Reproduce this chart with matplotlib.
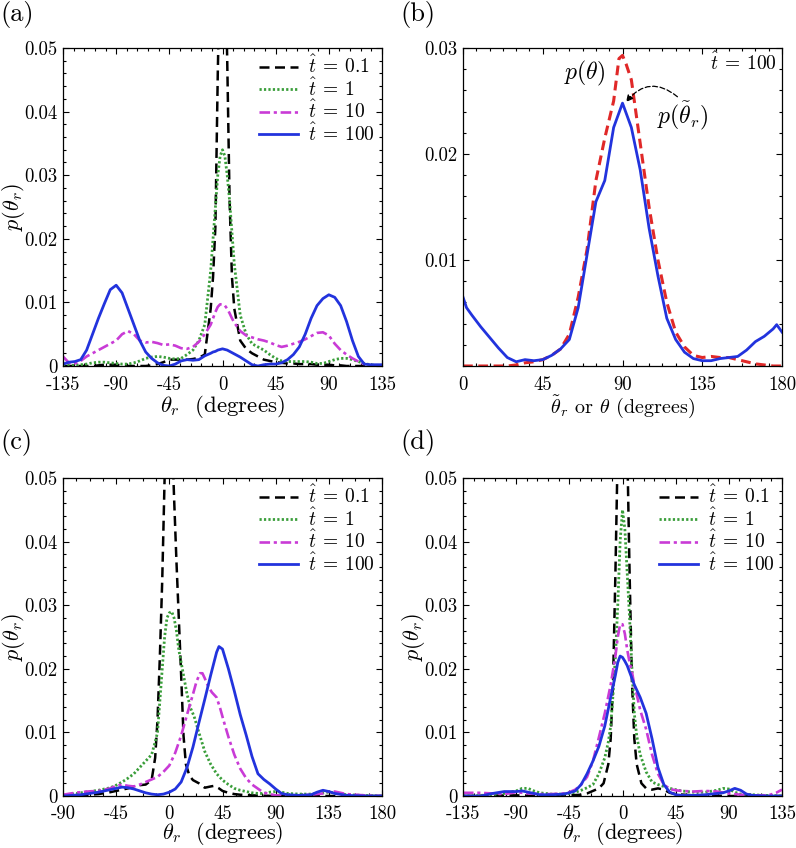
import matplotlib
matplotlib.use("Agg")
import matplotlib.pyplot as plt
from matplotlib.ticker import MultipleLocator

plt.rcParams['font.family'] = ['cmr10', 'DejaVu Serif']
plt.rcParams['mathtext.fontset'] = 'cm'
plt.rcParams['axes.unicode_minus'] = False
plt.rcParams['axes.formatter.use_mathtext'] = True

# ---------------- Panel (a) ----------------
a_x = [-135, -130, -125, -120, -115, -110, -105, -100, -95, -90, -85, -80, -75, -70, -65, -60,
       -55, -50, -45, -40, -35, -30, -25, -20, -15,
       -10, -8, -6, -4, -2, 0, 2, 4, 6, 8, 10,
       15, 20, 25, 30, 35, 40, 45, 50, 55, 60, 65, 70, 75, 80, 85, 90, 95, 100, 105, 110, 115,
       120, 125, 130, 135]
a_t01 = [0, 0, 0, 0, 0, 0, 0.0001, 0.0002, 0.0002, 0.0002, 0.0001, 0, 0, 0, 0, 0.0001,
         0.0003, 0.0006, 0.001, 0.001, 0.001, 0.001, 0.0011, 0.0013, 0.0018,
         0.009, 0.014, 0.022, 0.046, 0.065, 0.072, 0.066, 0.048, 0.026, 0.014, 0.009,
         0.004, 0.0027, 0.002, 0.0015, 0.001, 0.0008, 0.0006, 0.0005, 0.0004, 0.0004, 0.0003,
         0.0003, 0.0003, 0.0002, 0.0002, 0.0002, 0.0001, 0.0001, 0, 0, 0, 0, 0, 0, 0]
a_t1 = [0.0002, 0.0001, 0.0001, 0.0002, 0.0003, 0.0005, 0.0006, 0.0006, 0.0005, 0.0004, 0.0003,
        0.0003, 0.0005, 0.0008, 0.0012, 0.0014, 0.0015, 0.0014, 0.0012, 0.0011, 0.0012, 0.0018,
        0.0025, 0.004, 0.0065,
        0.015, 0.02, 0.025, 0.03, 0.033, 0.034, 0.033, 0.03, 0.026, 0.021, 0.016,
        0.008, 0.005, 0.0035, 0.003, 0.0025, 0.0018, 0.0012, 0.0008, 0.0007, 0.0007, 0.0007,
        0.0007, 0.0006, 0.0004, 0.0004, 0.0007, 0.001, 0.0012, 0.0012, 0.001, 0.0007, 0.0004,
        0.0002, 0.0001, 0.0001]
a_t10 = [0.0015, 0.0005, 0.0004, 0.0008, 0.0015, 0.002, 0.0025, 0.003, 0.0035, 0.004, 0.005,
         0.0055, 0.005, 0.004, 0.0037, 0.0038, 0.0036, 0.0033, 0.0034, 0.0032, 0.0028, 0.0027,
         0.003, 0.0038, 0.005,
         0.0065, 0.0075, 0.0085, 0.0093, 0.0097, 0.0097, 0.0095, 0.009, 0.0083, 0.0075, 0.0068,
         0.0055, 0.0048, 0.0045, 0.0042, 0.004, 0.0037, 0.0033, 0.003, 0.0032, 0.0035, 0.0038,
         0.0042, 0.0047, 0.0052, 0.0053, 0.0048, 0.0035, 0.0025, 0.0018, 0.0012, 0.0007, 0.0003,
         0.0001, 0.0, 0.0]
a_t100 = [0.0003, 0.0006, 0.0007, 0.001, 0.0025, 0.005, 0.0075, 0.0098, 0.012, 0.0127, 0.0115,
          0.009, 0.0065, 0.004, 0.0022, 0.0012, 0.0005, 0.0001, 0.0, 0.0003, 0.0008, 0.001,
          0.0009, 0.001, 0.0016,
          0.002, 0.0022, 0.0023, 0.0025, 0.0026, 0.0027, 0.0026, 0.0025, 0.0023, 0.0021, 0.0019,
          0.0014, 0.0008, 0.0002, 0.0, 0.0002, 0.0003, 0.0003, 0.0005, 0.001, 0.0018, 0.003,
          0.005, 0.0075, 0.0095, 0.0106, 0.0112, 0.0108, 0.0095, 0.007, 0.004, 0.0015, 0.0003,
          0.0002, 0.0002, 0.0002]

# ---------------- Panel (b) ----------------
b_red_x = [0, 5, 10, 15, 20, 25, 30, 35, 40, 45, 50, 55, 60, 65, 70, 75, 80, 85, 88, 90, 92, 95,
           100, 105, 110, 115, 120, 125, 130, 135, 140, 145, 150, 155, 160, 165, 170, 175, 180]
b_red_y = [0, 0, 0, 0, 0, 0, 0.0001, 0.0003, 0.0004, 0.0006, 0.001, 0.0016, 0.003, 0.0065, 0.011,
           0.0175, 0.0215, 0.025, 0.029, 0.0293, 0.0285, 0.027, 0.021, 0.015, 0.01, 0.006, 0.0032,
           0.0018, 0.001, 0.0008, 0.0009, 0.0008, 0.0008, 0.0006, 0.0004, 0.0002, 0.0001, 0.0, 0.0]
b_blue_x = [0, 2, 5, 10, 15, 20, 25, 30, 35, 40, 45, 50, 55, 60, 65, 70, 75, 80, 85, 90, 95, 100,
            105, 110, 115, 120, 125, 130, 135, 140, 145, 150, 155, 160, 165, 170, 175, 177, 180]
b_blue_y = [0.0065, 0.0055, 0.0048, 0.0037, 0.0027, 0.0017, 0.0008, 0.0004, 0.0006, 0.0005,
            0.0006, 0.001, 0.0016, 0.0025, 0.0055, 0.0105, 0.0155, 0.0175, 0.0225, 0.0248, 0.0225,
            0.0185, 0.013, 0.0085, 0.0045, 0.0025, 0.0013, 0.0007, 0.0005, 0.0005, 0.0007, 0.0008,
            0.0009, 0.0015, 0.0023, 0.0028, 0.0035, 0.0039, 0.0032]

# ---------------- Panel (c) ----------------
c_t01_x = [-90, -75, -60, -50, -45, -40, -35, -30, -25, -20, -15, -12, -10, -8, -6, -4, -2, 0, 2, 4,
           6, 8, 10, 12, 14, 17, 20, 25, 30, 35, 38, 42, 45, 50, 55, 60, 70, 90, 120, 150, 180]
c_t01_y = [0, 0.0001, 0.0003, 0.0006, 0.0008, 0.001, 0.0012, 0.0015, 0.0017, 0.0018, 0.0025,
           0.006, 0.012, 0.022, 0.034, 0.05, 0.062, 0.066, 0.058, 0.047, 0.037, 0.028, 0.019,
           0.0095, 0.005, 0.0032, 0.0025, 0.002, 0.0013, 0.0015, 0.0016, 0.0012, 0.0008, 0.0005,
           0.0003, 0.0002, 0.0001, 0, 0, 0, 0]
c_t1_x = [-90, -75, -60, -50, -45, -40, -35, -30, -25, -20, -15, -12, -10, -8, -6, -4, -2, 0, 2, 4,
          6, 8, 10, 12, 15, 18, 21, 25, 30, 35, 40, 45, 50, 55, 60, 65, 70, 75, 80, 85, 90, 95, 100,
          110, 120, 130, 135, 140, 150, 165, 180]
c_t1_y = [0.0001, 0.0005, 0.0009, 0.0013, 0.0017, 0.0022, 0.0028, 0.0035, 0.0045, 0.0055, 0.0065,
          0.0085, 0.01, 0.015, 0.02, 0.025, 0.028, 0.0288, 0.029, 0.028, 0.026, 0.023, 0.021, 0.019,
          0.016, 0.0138, 0.0125, 0.01, 0.007, 0.005, 0.0035, 0.0025, 0.0018, 0.0012, 0.0009,
          0.0007, 0.0005, 0.0004, 0.0004, 0.0006, 0.0007, 0.0006, 0.0004, 0.0003, 0.0003, 0.0005,
          0.0006, 0.0005, 0.0002, 0.0001, 0]
c_t10_x = [-90, -80, -70, -60, -50, -45, -40, -35, -30, -25, -20, -15, -10, -5, 0, 5, 10, 15, 20,
           23, 26, 28, 30, 33, 36, 40, 43, 46, 50, 55, 60, 65, 70, 80, 90, 100, 110, 120, 130, 135,
           140, 150, 165, 180]
c_t10_y = [0.0002, 0.0005, 0.0007, 0.0008, 0.0012, 0.0016, 0.0018, 0.0016, 0.0015, 0.0018,
           0.0022, 0.0026, 0.003, 0.0038, 0.0048, 0.0068, 0.0095, 0.0128, 0.016, 0.018, 0.0193,
           0.0193, 0.0185, 0.0172, 0.0163, 0.0155, 0.0138, 0.0118, 0.0093, 0.0065, 0.0043, 0.0028,
           0.0018, 0.0005, 0.0001, 0.0001, 0.0001, 0.0002, 0.0004, 0.0007, 0.0007, 0.0003, 0.0001, 0]
c_t100_x = [-90, -75, -60, -50, -45, -40, -35, -30, -25, -20, -15, -10, -5, 0, 5, 10, 15, 20, 25,
            30, 35, 40, 42, 45, 50, 55, 60, 65, 70, 75, 80, 85, 90, 95, 100, 110, 120, 125, 130,
            135, 140, 150, 165, 180]
c_t100_y = [0, 0.0002, 0.0006, 0.001, 0.0012, 0.0014, 0.0013, 0.0011, 0.0008, 0.0005, 0.0003,
            0.0002, 0.0003, 0.0006, 0.0011, 0.0022, 0.0045, 0.0077, 0.0115, 0.0152, 0.019, 0.0226,
            0.0235, 0.0231, 0.02, 0.0165, 0.0128, 0.0096, 0.0062, 0.0035, 0.0026, 0.0019, 0.0011,
            0.0004, 0.0002, 0.0001, 0.0002, 0.0006, 0.0009, 0.0007, 0.0004, 0.0001, 0, 0]

# ---------------- Panel (d) ----------------
d_t01_x = [-135, -90, -60, -45, -35, -30, -25, -20, -16, -12, -10, -8, -6, -4, -2, 0, 2, 4, 6, 8,
           10, 12, 16, 20, 25, 30, 35, 40, 45, 60, 90, 135]
d_t01_y = [0, 0.0001, 0, 0.0001, 0.0002, 0.0004, 0.0008, 0.0012, 0.002, 0.005, 0.009, 0.018,
           0.035, 0.055, 0.066, 0.07, 0.066, 0.055, 0.035, 0.018, 0.009, 0.005, 0.002, 0.0012,
           0.001, 0.0012, 0.001, 0.0005, 0.0003, 0.0001, 0, 0]
d_t1_x = [-135, -120, -110, -100, -90, -85, -80, -75, -70, -60, -50, -45, -40, -35, -30, -25, -20,
          -15, -12, -10, -8, -6, -4, -2, 0, 2, 4, 6, 8, 10, 12, 15, 20, 25, 30, 35, 40, 50, 60, 70,
          80, 85, 90, 95, 100, 110, 120, 135]
d_t1_y = [0, 0.0001, 0.0002, 0.0004, 0.0008, 0.0012, 0.0012, 0.0008, 0.0005, 0.0003, 0.0003,
          0.0004, 0.0006, 0.0009, 0.0013, 0.0018, 0.0035, 0.006, 0.0085, 0.011, 0.016, 0.022, 0.03,
          0.04, 0.045, 0.042, 0.035, 0.028, 0.02, 0.013, 0.0095, 0.0065, 0.0038, 0.0022, 0.0018,
          0.0015, 0.0012, 0.0008, 0.0006, 0.0006, 0.0009, 0.0012, 0.0011, 0.0006, 0.0003, 0.0002,
          0.0001, 0]
d_t10_x = [-135, -120, -100, -90, -80, -70, -60, -50, -45, -40, -35, -30, -25, -20, -15, -10, -6,
           -4, -2, 0, 2, 4, 6, 8, 10, 12, 15, 20, 25, 30, 35, 40, 45, 50, 60, 70, 80, 90, 100, 110,
           120, 125, 130, 135]
d_t10_y = [0.0005, 0.0005, 0.0003, 0.0006, 0.0004, 0.0003, 0.0003, 0.0004, 0.0006, 0.001, 0.0018,
           0.003, 0.0055, 0.0092, 0.013, 0.0175, 0.022, 0.025, 0.027, 0.027, 0.0255, 0.023, 0.021,
           0.0195, 0.0175, 0.016, 0.0135, 0.0105, 0.0065, 0.0035, 0.0018, 0.0011, 0.0009, 0.0008,
           0.0007, 0.0008, 0.0007, 0.0004, 0.0002, 0.0001, 0.0001, 0.0002, 0.0005, 0.001]
d_t100_x = [-135, -120, -110, -100, -90, -85, -80, -70, -60, -50, -45, -40, -35, -30, -25, -20,
            -15, -10, -6, -4, -2, 0, 2, 4, 6, 8, 10, 15, 20, 25, 30, 35, 40, 45, 50, 60, 70, 80,
            85, 90, 95, 100, 105, 110, 120, 135]
d_t100_y = [0, 0, 0.0004, 0.0007, 0.0007, 0.0008, 0.0006, 0.0002, 0.0002, 0.0003, 0.0005, 0.0008,
            0.0018, 0.0035, 0.0055, 0.0078, 0.011, 0.0155, 0.019, 0.021, 0.022, 0.0218, 0.0212,
            0.0205, 0.0195, 0.0185, 0.0175, 0.0155, 0.013, 0.009, 0.0045, 0.0018, 0.0006, 0.0002,
            0.0001, 0.0001, 0.0002, 0.0004, 0.0005, 0.0008, 0.0012, 0.0009, 0.0003, 0.0001, 0, 0]

labels = [r'$\hat{t}\:=\:0.1$', r'$\hat{t}\:=\:1$', r'$\hat{t}\:=\:10$', r'$\hat{t}\:=\:100$']
xlabel_r = r'$\theta_r$  (degrees)'
xlabel_b = r'$\tilde{\theta}_r$ or $\theta$ (degrees)'
ylabel = r'$p(\theta_r)$'

BLACK = '#000000'
GREEN = '#3a9e3a'
MAGENTA = '#c93bd6'
BLUE = '#2233dd'
RED = '#e02828'

fig = plt.figure(figsize=(7.96, 8.48), dpi=100)
W, H = 319 / 796, 318 / 848
pos = {
    'a': [63 / 796, 1 - 366 / 848, W, H],
    'b': [463 / 796, 1 - 366 / 848, W, H],
    'c': [63 / 796, 1 - 796 / 848, W, H],
    'd': [463 / 796, 1 - 796 / 848, W, H],
}


def style_axes(ax, xlim, xticks, xminor, ylim, yticks, ylabels, yminor=0.002, xpad=7.5):
    ax.set_xlim(*xlim)
    ax.set_ylim(*ylim)
    ax.set_xticks(xticks)
    ax.set_xticklabels([str(v) for v in xticks])
    ax.set_yticks(yticks)
    ax.set_yticklabels(ylabels)
    ax.xaxis.set_minor_locator(MultipleLocator(xminor))
    ax.yaxis.set_minor_locator(MultipleLocator(yminor))
    ax.tick_params(which='both', direction='in', top=True, right=True, labelsize=13.5,
                   width=0.8)
    ax.tick_params(axis='x', which='both', pad=xpad)
    ax.tick_params(axis='y', which='both', pad=4)
    ax.tick_params(which='major', length=4.5)
    ax.tick_params(which='minor', length=2.5)
    for s in ax.spines.values():
        s.set_linewidth(0.9)


def four_curves(ax, xs, ys):
    l1, = ax.plot(xs[0], ys[0], color=BLACK, lw=1.8, dashes=(4, 2.2))
    l2, = ax.plot(xs[1], ys[1], color=GREEN, lw=2.0, dashes=(0.8, 0.8))
    l3, = ax.plot(xs[2], ys[2], color=MAGENTA, lw=1.9, dashes=(4, 1.4, 1.2, 1.4))
    l4, = ax.plot(xs[3], ys[3], color=BLUE, lw=2.0)
    ax.legend([l1, l2, l3, l4], labels, loc='upper right', frameon=False, fontsize=14,
              handlelength=2.0, handletextpad=0.55, labelspacing=0.0,
              borderpad=0.15, borderaxespad=0.2, bbox_to_anchor=(1.0, 1.0))


def set_ylab(ax):
    ax.set_ylabel(ylabel, fontsize=16)
    ax.yaxis.set_label_coords(-0.112, 0.5)


ylab05 = ['0', '0.01', '0.02', '0.03', '0.04', '0.05']
yt05 = [0, 0.01, 0.02, 0.03, 0.04, 0.05]

# (a)
ax = fig.add_axes(pos['a'])
four_curves(ax, [a_x] * 4, [a_t01, a_t1, a_t10, a_t100])
style_axes(ax, (-135, 135), [-135, -90, -45, 0, 45, 90, 135], 9, (0, 0.05), yt05, ylab05)
ax.set_xlabel(xlabel_r, fontsize=16.5, labelpad=-1)
set_ylab(ax)

# (b)
ax = fig.add_axes(pos['b'])
ax.plot(b_red_x, b_red_y, color=RED, lw=2.2, dashes=(3.2, 1.8))
ax.plot(b_blue_x, b_blue_y, color=BLUE, lw=2.0)
style_axes(ax, (0, 180), [0, 45, 90, 135, 180], 7.5, (0, 0.03), [0.01, 0.02, 0.03],
           ['0.01', '0.02', '0.03'])
ax.set_xlabel(xlabel_b, fontsize=14.5, labelpad=-1)
ax.text(69, 0.0276, r'$p(\theta)$', fontsize=17, ha='center', va='center')
ax.text(124, 0.0236, r'$p(\tilde{\theta}_r)$', fontsize=17, ha='center', va='center')
ax.annotate('', xy=(92, 0.0249), xytext=(121, 0.0254),
            arrowprops=dict(arrowstyle='-|>', linestyle=(0, (4, 2)), color='black', lw=0.9,
                            connectionstyle='arc3,rad=0.5', mutation_scale=10,
                            shrinkA=0, shrinkB=0))
ax.text(0.88, 0.955, r'$\hat{t}\:=\:100$', transform=ax.transAxes, fontsize=14,
        ha='center', va='center')

# (c)
ax = fig.add_axes(pos['c'])
four_curves(ax, [c_t01_x, c_t1_x, c_t10_x, c_t100_x], [c_t01_y, c_t1_y, c_t10_y, c_t100_y])
style_axes(ax, (-90, 180), [-90, -45, 0, 45, 90, 135, 180], 11.25, (0, 0.05), yt05, ylab05,
           xpad=6.5)
ax.set_xlabel(xlabel_r, fontsize=16, labelpad=-2)
set_ylab(ax)

# (d)
ax = fig.add_axes(pos['d'])
four_curves(ax, [d_t01_x, d_t1_x, d_t10_x, d_t100_x], [d_t01_y, d_t1_y, d_t10_y, d_t100_y])
style_axes(ax, (-135, 135), [-135, -90, -45, 0, 45, 90, 135], 9, (0, 0.05), yt05, ylab05,
           xpad=6.5)
ax.set_xlabel(xlabel_r, fontsize=16, labelpad=-2)
set_ylab(ax)

# panel labels
for lab, (x, y) in zip(['(a)', '(b)', '(c)', '(d)'],
                       [(0, 15), (400, 15), (0, 443), (400, 443)]):
    fig.text(x / 796, 1 - y / 848, lab, fontsize=19, ha='left', va='center')

fig.savefig('out.png', dpi=100)
